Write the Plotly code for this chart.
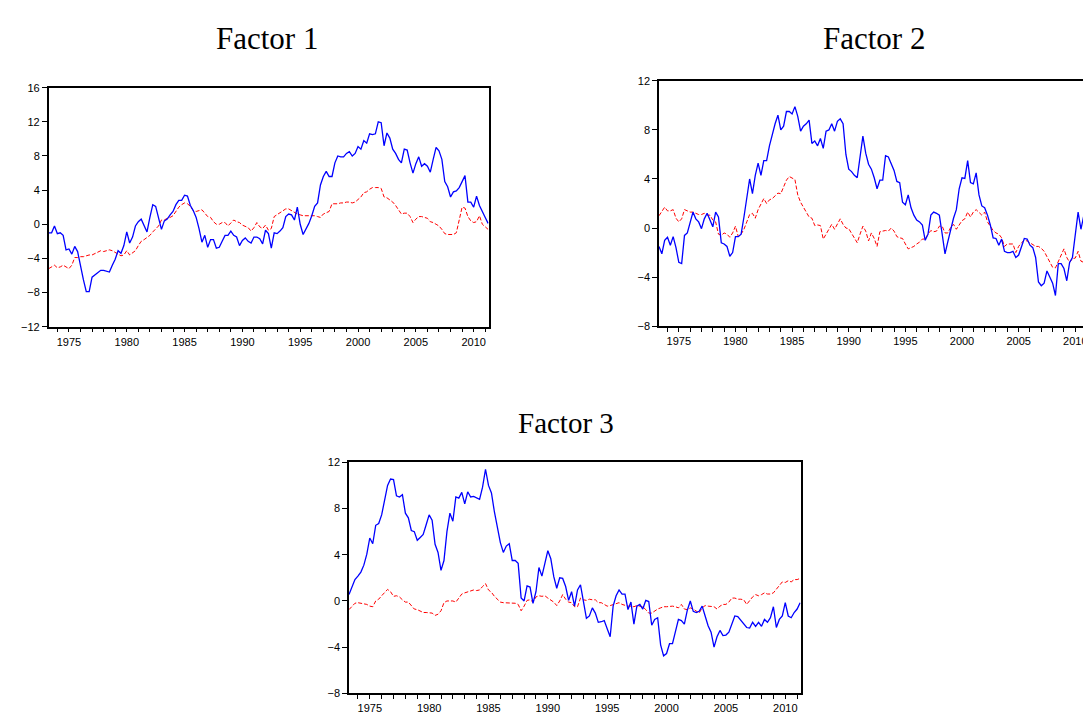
import plotly.graph_objects as go

# Quarterly observations, 1973Q2 .. 2011Q2
start_year = 1973.25
step = 0.25

f1_blue = [
    -1.0, -1.0, -0.2, -1.1, -1.0, -1.3, -3.0, -2.9, -3.5, -2.6,
    -3.2, -5.0, -6.5, -7.9, -7.9, -6.2, -5.9, -5.6, -5.4, -5.4,
    -5.5, -5.6, -4.8, -4.1, -3.1, -3.4, -2.5, -0.9, -2.2, -1.5,
    -0.2, 0.3, 0.6, -0.2, -0.9, 0.8, 2.3, 2.1, 0.8, -0.6,
    0.4, 0.6, 1.1, 1.5, 2.3, 2.8, 2.8, 3.4, 3.3, 2.2,
    1.6, 0.8, -0.5, -2.1, -1.3, -2.7, -1.8, -1.8, -2.8, -2.7,
    -2.0, -1.3, -1.3, -0.8, -1.3, -1.5, -2.5, -1.9, -1.6, -2.0,
    -2.2, -1.5, -1.5, -1.7, -2.3, -0.7, -1.1, -2.8, -1.0, -1.1,
    -0.8, -0.4, 0.9, 1.2, 1.1, 0.5, 2.0, 0.0, -1.2, -0.6,
    0.1, 1.0, 2.1, 2.5, 4.6, 5.6, 6.2, 5.6, 5.6, 7.2,
    8.0, 7.9, 7.9, 8.3, 8.5, 8.0, 8.3, 9.1, 8.8, 9.8,
    9.5, 10.6, 10.5, 10.6, 12.0, 11.9, 9.2, 10.7, 10.1, 8.8,
    8.3, 7.6, 7.2, 8.8, 8.7, 7.2, 6.0, 7.1, 7.9, 6.8,
    7.1, 6.8, 6.1, 7.6, 9.0, 8.6, 7.6, 5.0, 4.4, 3.2,
    3.8, 3.9, 4.3, 5.0, 5.7, 2.6, 2.6, 2.0, 3.3, 2.2,
    1.4, 0.8, 0.1,
]
f1_red = [
    -5.2, -5.0, -4.8, -5.1, -5.0, -4.8, -5.0, -5.2, -4.8, -3.9,
    -3.9, -3.8, -3.8, -3.7, -3.6, -3.6, -3.4, -3.3, -3.1, -3.2,
    -3.1, -3.0, -3.1, -3.3, -3.5, -3.7, -3.6, -3.1, -3.6, -3.4,
    -3.1, -2.5, -2.0, -1.8, -1.6, -1.3, -0.9, -0.6, -0.2, 0.5,
    0.5, 0.7, 0.8, 1.0, 1.5, 2.0, 2.3, 2.5, 2.4, 2.1,
    1.6, 1.5, 1.6, 1.7, 1.3, 0.9, 0.8, 0.3, 0.0, 0.0,
    0.2, 0.2, -0.2, 0.1, 0.5, 0.3, 0.2, -0.1, -0.3, -0.4,
    -0.8, -0.4, 0.2, -0.3, -0.5, -0.1, -0.7, -0.5, 0.9, 1.1,
    1.3, 1.5, 1.8, 1.8, 1.6, 1.3, 1.2, 1.1, 1.0, 1.0,
    1.0, 1.0, 1.0, 0.9, 0.8, 1.2, 1.4, 1.5, 2.4, 2.4,
    2.4, 2.5, 2.5, 2.6, 2.6, 2.5, 2.6, 2.9, 3.2, 3.7,
    3.8, 4.1, 4.3, 4.3, 4.3, 4.2, 3.2, 3.1, 2.9, 2.6,
    2.2, 1.7, 1.2, 1.3, 1.3, 0.9, 0.2, 0.6, 0.9, 0.9,
    0.8, 0.7, 0.3, 0.2, 0.0, -0.2, -0.6, -1.1, -1.2, -1.2,
    -1.2, -1.0, 0.6, 2.0, 1.9, 0.9, 0.4, 0.2, 0.3, 1.0,
    0.0, -0.3, -0.6,
]
f2_blue = [
    -1.5, -2.1, -1.0, -0.75, -1.4, -0.7, -1.6, -2.8, -2.9, -0.6,
    -0.4, 0.5, 1.3, 0.75, 0.5, -0.05, 0.75, 1.2, 0.6, 0.1,
    1.3, 0.9, -1.2, -1.3, -1.5, -2.3, -2.0, -0.7, -0.7, -0.5,
    0.9, 2.5, 4.0, 2.8, 4.3, 5.3, 4.3, 5.5, 5.5, 6.7,
    7.7, 8.5, 9.2, 8.0, 8.3, 9.5, 9.5, 9.3, 9.9, 9.1,
    7.9, 8.3, 8.5, 8.8, 6.9, 7.1, 6.7, 7.3, 6.5, 7.9,
    8.0, 8.5, 7.9, 8.7, 8.9, 8.5, 6.0, 4.8, 4.6, 4.3,
    4.1, 5.9, 7.5, 6.1, 5.2, 4.8, 4.1, 3.2, 3.9, 3.9,
    5.9, 5.8, 5.3, 4.7, 3.8, 3.7, 2.1, 1.9, 2.7, 1.65,
    1.05, 0.65, 0.5, 0.25, -1.0, -0.5, 1.05, 1.3, 1.2, 1.05,
    -0.5, -2.1, -1.1, 0.0, 0.8, 1.5, 3.2, 4.1, 4.05, 5.5,
    3.7, 3.6, 4.5, 2.7, 1.8, 1.65, 1.05, 0.25, -0.8, -0.85,
    -1.4, -0.9, -1.9, -2.0, -2.0, -1.9, -2.4, -2.2, -1.6, -0.85,
    -0.9, -1.4, -1.6, -2.4, -4.4, -4.7, -4.5, -3.5, -4.0, -4.5,
    -5.5, -2.9, -2.9, -3.3, -4.3, -2.8, -2.4, -0.7, 1.3, -0.1,
    1.0, -0.1, -0.1,
]
f2_red = [
    1.0, 1.3, 1.7, 1.4, 1.4, 1.5, 0.8, 0.5, 0.75, 1.5,
    1.4, 1.3, 1.3, 1.2, 1.1, 1.1, 1.2, 1.05, 1.05, 0.65,
    0.5, -0.5, -0.6, -0.4, -0.5, -0.75, -0.4, 0.15, -0.7, -0.5,
    -0.1, 0.5, 1.1, 1.2, 0.8, 1.5, 1.9, 2.4, 2.0, 2.3,
    2.4, 2.6, 2.85, 2.8, 3.3, 3.9, 4.2, 4.05, 3.95, 2.7,
    2.1, 1.7, 1.3, 0.9, 0.8, 0.2, 0.25, 0.2, -0.9, -0.5,
    0.0, 0.3, -0.1, 0.3, 0.75, 0.3, 0.0, -0.05, -0.4, -0.8,
    -1.2, -0.5, 0.15, -0.25, -1.05, -0.4, -0.85, -1.5, -0.3, -0.25,
    -0.2, -0.25, 0.0, -0.25, -0.7, -0.8, -0.85, -1.3, -1.7, -1.6,
    -1.5, -1.3, -1.15, -0.9, -0.9, -0.5, -0.2, -0.3, -0.25, 0.15,
    0.15, -0.4, -0.4, 0.05, 0.3, -0.1, 0.3, 0.6, 0.75, 1.3,
    0.9, 1.3, 1.5, 1.3, 1.05, 1.3, 0.5, 0.15, -0.2, -0.4,
    -0.5, -0.8, -1.5, -1.3, -1.3, -1.3, -2.0, -1.5, -1.2, -1.0,
    -1.05, -1.2, -1.3, -1.5, -1.5, -1.65, -1.9, -2.3, -2.7, -3.2,
    -3.25, -2.7, -2.1, -1.7, -2.4, -2.8, -2.5, -2.45, -1.9, -2.7,
    -2.8, -3.1, -3.3,
]
f3_blue = [
    0.55, 1.25, 1.85, 2.15, 2.5, 3.1, 4.05, 5.45, 4.95, 6.55,
    6.7, 7.45, 8.85, 10.0, 10.55, 10.5, 9.1, 9.0, 9.2, 7.6,
    7.2, 6.1, 6.0, 5.25, 5.5, 5.75, 6.6, 7.45, 7.0, 4.9,
    4.2, 2.65, 3.5, 6.0, 7.6, 6.9, 9.0, 8.9, 9.4, 8.4,
    9.45, 9.0, 9.05, 8.9, 8.8, 9.85, 11.4, 10.0, 9.35, 7.7,
    6.45, 5.05, 4.2, 4.75, 4.95, 3.5, 3.5, 3.25, 0.25, 0.0,
    1.3, 1.2, -0.2, 0.8, 2.9, 2.15, 3.25, 4.35, 3.65, 2.1,
    1.1, 2.0, 1.95, 1.25, 0.05, 0.8, -0.45, 0.95, 1.4, 0.1,
    -1.5, -1.3, -0.6, -1.05, -1.85, -1.8, -1.7, -2.4, -3.1, -0.45,
    0.45, 0.95, 0.6, 0.6, -0.75, -0.1, -2.0, -0.45, -0.3, -0.7,
    0.05, -0.05, -2.1, -1.6, -1.45, -3.8, -4.75, -4.55, -3.7, -3.7,
    -2.55, -1.6, -1.7, -2.0, -0.8, 0.0, -0.9, -1.0, -0.9, -0.45,
    -1.3, -2.15, -2.7, -4.0, -3.1, -2.55, -3.0, -2.95, -2.7, -2.0,
    -1.3, -1.35, -1.7, -2.0, -2.3, -2.35, -1.85, -2.2, -1.85, -2.2,
    -1.6, -1.85, -1.45, -0.5, -2.3, -1.6, -1.3, -0.15, -1.3, -1.45,
    -1.0, -0.7, -0.15,
]
f3_red = [
    -0.75, -0.45, -0.2, -0.15, -0.2, -0.2, -0.3, -0.45, -0.5, 0.0,
    0.15, 0.45, 0.75, 1.0, 0.8, 0.4, 0.45, 0.35, 0.1, -0.1,
    -0.1, -0.45, -0.7, -0.75, -0.85, -1.0, -1.0, -1.0, -1.05, -1.25,
    -1.15, -0.85, -0.15, 0.0, 0.0, 0.0, -0.1, 0.25, 0.6, 0.7,
    0.8, 0.9, 0.95, 0.9, 0.95, 1.25, 1.5, 0.95, 0.75, 0.4,
    0.1, -0.1, -0.15, -0.15, -0.15, -0.15, -0.2, -0.3, -0.85, -0.45,
    0.05, 0.1, -0.1, 0.35, 0.45, 0.4, 0.45, 0.25, 0.1, -0.1,
    -0.4, 0.0, 0.55, 0.15, -0.1, -0.15, -0.5, -0.5, 0.25, 0.1,
    0.05, 0.15, 0.1, 0.1, -0.15, -0.15, -0.3, -0.45, -0.4, -0.3,
    -0.25, -0.15, -0.3, -0.4, -0.45, -0.45, -0.5, -0.4, -0.45, -0.5,
    -0.75, -1.05, -1.05, -0.85, -0.7, -0.6, -0.5, -0.5, -0.45, -0.45,
    -0.5, -0.6, -0.3, -0.7, -0.75, -0.6, -0.7, -0.85, -1.05, -0.6,
    -0.4, -0.45, -0.45, -0.5, -0.7, -0.45, -0.3, -0.3, -0.1, 0.25,
    0.25, 0.15, 0.15, 0.1, -0.3, 0.0, 0.35, 0.55, 0.45, 0.55,
    0.7, 0.6, 0.6, 0.7, 1.0, 1.3, 1.65, 1.6, 1.75, 1.65,
    1.85, 1.85, 1.95,
]

titles = ["Factor 1", "Factor 2", "Factor 3"]
year_ticks = [1975, 1980, 1985, 1990, 1995, 2000, 2005, 2010]
y_ranges = [(-12, 16), (-8, 12), (-8, 12)]


def dates(n):
    return [start_year + step * i for i in range(n)]


panels = [(f1_blue, f1_red), (f2_blue, f2_red), (f3_blue, f3_red)]

W, H = 1091, 713
# plot-area boxes in pixels: (left, right, top, bottom)
boxes = [
    (40.7, 480.7, 75, 318),
    (651, 1082, 68, 317.5),
    (341, 792.7, 456, 691),
]
title_pos = [(259, 25, 31), (866, 25, 31), (558, 416, 29)]

fig = go.Figure()
tick_font = dict(family="Liberation Sans, Arial, sans-serif", size=11, color="black")

for i, ((blue, red), (l, r, t, b)) in enumerate(zip(panels, boxes)):
    n = i + 1
    xa = "x" if n == 1 else f"x{n}"
    ya = "y" if n == 1 else f"y{n}"
    fig.add_trace(go.Scatter(x=dates(len(red)), y=red, mode="lines",
                             line=dict(color="#FF0000", width=1, dash="4px,2px"),
                             xaxis=xa, yaxis=ya, showlegend=False))
    fig.add_trace(go.Scatter(x=dates(len(blue)), y=blue, mode="lines",
                             line=dict(color="#0000FF", width=1.3),
                             xaxis=xa, yaxis=ya, showlegend=False))
    lo, hi = y_ranges[i]
    fig.layout[f"xaxis{'' if n == 1 else n}"] = dict(
        domain=[l / W, r / W], anchor=ya, range=[1973.25, 2011.3],
        tickmode="array", tickvals=year_ticks, ticktext=[str(v) for v in year_ticks],
        ticks="outside", ticklen=4, tickwidth=1, tickcolor="black",
        minor=dict(dtick=1, tick0=1975, ticks="outside", ticklen=4, tickcolor="black", showgrid=False),
        showline=True, linecolor="black", linewidth=1.5, mirror=True,
        showgrid=False, zeroline=False, tickfont=tick_font,
    )
    fig.layout[f"yaxis{'' if n == 1 else n}"] = dict(
        domain=[1 - b / H, 1 - t / H], anchor=xa, range=[lo, hi], dtick=4, tick0=0,
        ticks="outside", ticklen=5, tickwidth=1, tickcolor="black",
        showline=True, linecolor="black", linewidth=1.5, mirror=True,
        showgrid=False, zeroline=False, tickfont=tick_font,
    )
    tx, ty, ts = title_pos[i]
    fig.add_annotation(text=titles[i], x=tx / W, y=1 - ty / H, xref="paper", yref="paper",
                       showarrow=False, xanchor="center", yanchor="middle",
                       font=dict(family="Liberation Serif, Times New Roman, serif", size=ts, color="black"))

fig.update_layout(width=W, height=H, margin=dict(l=0, r=0, t=0, b=0),
                  paper_bgcolor="white", plot_bgcolor="white")
fig.write_html("out.html")
